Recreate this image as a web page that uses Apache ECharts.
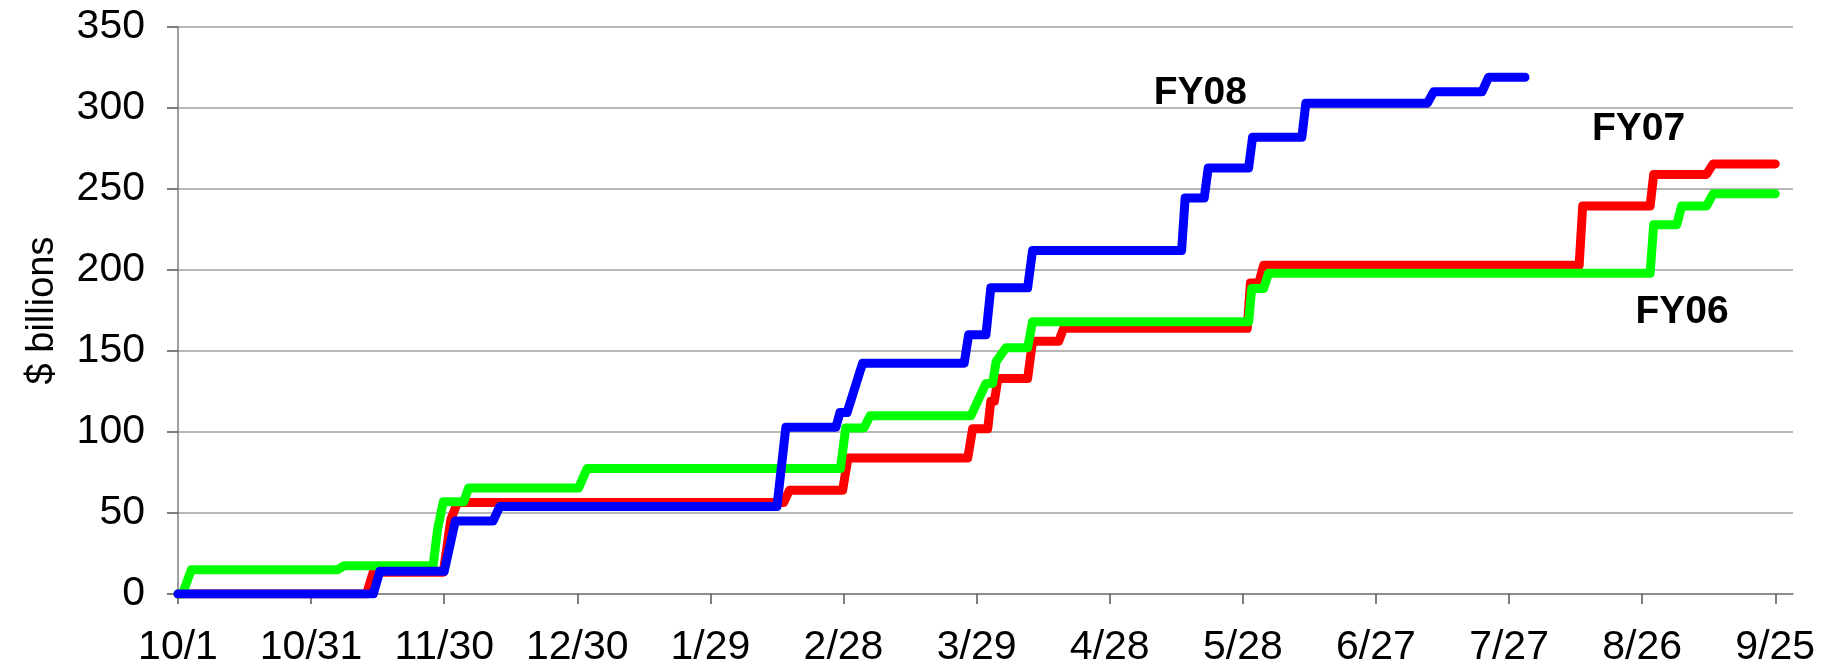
<!DOCTYPE html>
<html>
<head>
<meta charset="utf-8">
<script src="https://cdn.jsdelivr.net/npm/echarts@6/dist/echarts.min.js"></script>
<style>
  html, body { margin: 0; padding: 0; background: #fff; }
  #line { width: 1825px; height: 670px; }
</style>
</head>
<body>
<div id="line"></div>
<script>
// days counted from 10/1, one label every 30 days
var tickDays = [0, 30, 60, 90, 120, 150, 180, 210, 240, 270, 300, 330, 360];
var tickLabels = ['10/1', '10/31', '11/30', '12/30', '1/29', '2/28', '3/29', '4/28', '5/28', '6/27', '7/27', '8/26', '9/25'];

// cumulative $ billions (both ends of each step)
var fy08Days = [0, 44, 45.5, 60, 62.5, 71, 72.5, 135, 137, 148.3, 149.2, 150.8, 154.3, 177.2, 178.2, 182.1, 183.2, 191.5, 192.6, 226.2, 227, 231.3, 232.2, 241.3, 242.2, 253.3, 254.2, 281.6, 283, 293.9, 295.4, 303.6];
var fy08Vals = [0, 0, 14, 14, 45, 45, 54, 54, 103, 103, 112, 112, 142.5, 142.5, 160, 160, 189, 189, 212, 212, 244.5, 244.5, 263, 263, 282, 282, 303, 303, 310, 310, 319, 319];

var fy07Days = [0, 42.5, 44, 59.8, 61.5, 63, 136.5, 137.8, 149.8, 151, 178, 179.1, 182.5, 183.2, 184, 184.8, 191.5, 192.6, 198.5, 199.6, 241, 241.7, 243.6, 244.7, 315.8, 316.6, 331.8, 332.6, 344.5, 346, 360];
var fy07Vals = [0, 0, 13.5, 13.5, 46, 56.5, 56.5, 64, 64, 84, 84, 102, 102, 119, 119, 133, 133, 156, 156, 164, 164, 192, 192, 203, 203, 239.5, 239.5, 259, 259, 265.5, 265.5];

var fy06Days = [0, 1, 3, 36, 37.5, 57.5, 58.5, 59.8, 64.4, 65.5, 90.3, 92.2, 149.3, 150.5, 154.6, 156, 178.7, 182.1, 183.6, 184.4, 186.6, 191.5, 192.6, 241.3, 242, 244.7, 245.8, 331.8, 332.6, 337.8, 338.9, 344.5, 346, 360];
var fy06Vals = [0, 0, 15, 15, 17.5, 17.5, 40, 57, 57, 65.5, 65.5, 77.5, 77.5, 102.5, 102.5, 110, 110, 130, 130, 143.5, 152, 152, 168, 168, 188.6, 188.6, 198, 198, 228, 228, 239.5, 239.5, 247, 247];

// series name labels
var labelNames = ['FY08', 'FY07', 'FY06'];
var labelDays = [230.4, 329.2, 339];
var labelVals = [309, 287, 174];

function pairs(days, vals) {
	var out = [];
	for (var i = 0; i < days.length; i++) {
		out.push([days[i], vals[i]]);
	}
	return out;
}

var labelData = [];
for (var i = 0; i < labelNames.length; i++) {
	labelData.push({ name: labelNames[i], value: [labelDays[i], labelVals[i]] });
}

var font = 'Liberation Sans, Arial, sans-serif';

var mycharts = echarts.init(document.getElementById('line'));
var option = {
	backgroundColor: '#ffffff',
	animation: false,
	grid: {
		left: 178,
		right: 32,
		top: 27,
		bottom: 76,
		outerBoundsMode: 'none'
	},
	xAxis: {
		type: 'value',
		min: 0,
		max: 364,
		splitLine: { show: false },
		axisLine: { show: true, lineStyle: { color: '#808080', width: 1.5 } },
		axisTick: {
			show: true,
			length: 10,
			customValues: tickDays,
			lineStyle: { color: '#555555', width: 1.5 }
		},
		axisLabel: {
			customValues: tickDays,
			margin: 33,
			fontSize: 41,
			fontFamily: font,
			color: '#000000',
			formatter: function (v) {
				var k = tickDays.indexOf(v);
				return k >= 0 ? tickLabels[k] : '';
			}
		}
	},
	yAxis: {
		type: 'value',
		min: 0,
		max: 350,
		interval: 50,
		name: '$ billions',
		nameLocation: 'middle',
		nameRotate: 90,
		nameGap: 116,
		nameMoveOverlap: false,
		nameTextStyle: { fontSize: 38, fontFamily: font, color: '#000000' },
		axisLine: { show: true, lineStyle: { color: '#808080', width: 1.5 } },
		axisTick: { show: true, length: 11, lineStyle: { color: '#555555', width: 1.5 } },
		splitLine: { show: true, lineStyle: { color: '#a0a0a0', width: 1.5 } },
		axisLabel: {
			margin: 33,
			fontSize: 41,
			fontFamily: font,
			color: '#000000'
		}
	},
	series: [{
			name: 'FY07',
			type: 'line',
			showSymbol: false,
			data: pairs(fy07Days, fy07Vals),
			lineStyle: { color: '#ff0000', width: 9, cap: 'round', join: 'round' },
			itemStyle: { color: '#ff0000' },
			z: 2
		},
		{
			name: 'FY06',
			type: 'line',
			showSymbol: false,
			data: pairs(fy06Days, fy06Vals),
			lineStyle: { color: '#00ff00', width: 9, cap: 'round', join: 'round' },
			itemStyle: { color: '#00ff00' },
			z: 3
		},
		{
			name: 'FY08',
			type: 'line',
			showSymbol: false,
			data: pairs(fy08Days, fy08Vals),
			lineStyle: { color: '#0000ff', width: 9, cap: 'round', join: 'round' },
			itemStyle: { color: '#0000ff' },
			z: 4
		},
		{
			name: 'labels',
			type: 'scatter',
			symbolSize: 0,
			data: labelData,
			itemStyle: { opacity: 1 },
			label: {
				show: true,
				position: 'inside',
				formatter: '{b}',
				fontSize: 39,
				fontWeight: 'bold',
				fontFamily: font,
				color: '#000000'
			},
			z: 5
		}
	]
};
mycharts.setOption(option);
</script>
</body>
</html>
